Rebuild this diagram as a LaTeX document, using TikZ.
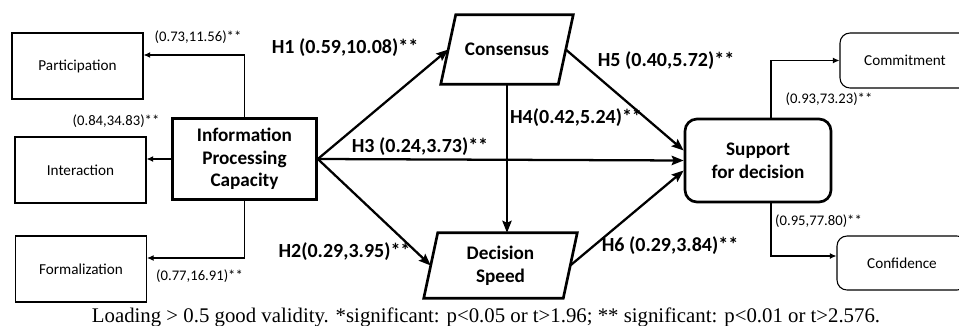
\documentclass[tikz,border=0pt]{standalone}
\usepackage{fontspec}
\setmainfont{Carlito}
\newfontfamily\capfont{Liberation Serif}
\usetikzlibrary{arrows.meta,calc}
\begin{document}
\begin{tikzpicture}[x=0.75pt,y=-0.75pt,
  thinbox/.style={draw, line width=0.8pt, inner sep=0pt, align=center, font=\fontsize{11.4}{13}\selectfont},
  boldbox/.style={draw, line width=2pt, inner sep=0pt, align=center, font=\bfseries\fontsize{14.4}{17}\selectfont},
  ghost/.style={inner sep=0pt, align=center, font=\bfseries\fontsize{14.4}{17}\selectfont},
  para/.style={line width=2pt, line join=miter},
  main/.style={line width=1.7pt, -{Stealth[length=9pt,width=7pt,inset=1.5pt]}},
  thin/.style={line width=0.8pt, -{Latex[length=5pt,width=4.5pt]}},
  hlab/.style={inner sep=0pt, font=\bfseries\fontsize{15}{17}\selectfont},
  slab/.style={inner sep=0pt, font=\fontsize{11}{13}\selectfont}]
\useasboundingbox (0,0) rectangle (959,325);
\clip (0,0) rectangle (959,325);

% indicator boxes
\node[thinbox, minimum width=98.25pt, minimum height=49.5pt] (part) at (77.5,66) {Participation};
\node[thinbox, minimum width=98.25pt, minimum height=49.5pt] (inter) at (80.5,170) {Interaction};
\node[thinbox, minimum width=98.25pt, minimum height=49.5pt] (formal) at (81,269) {Formalization};
\node[thinbox, rounded corners=7.5pt, minimum width=97.5pt, minimum height=41.25pt] (commit) at (905,60.5) {Commitment};
\node[thinbox, rounded corners=7.5pt, minimum width=97.5pt, minimum height=40.5pt] (conf) at (902,263) {Confidence};

% constructs
\node[boldbox, minimum width=108pt, minimum height=60.75pt] (ipc) at (244.5,159) {Information\\Processing\\Capacity};
\node[boldbox, rounded corners=9pt, minimum width=109.5pt, minimum height=62.25pt] (sup) at (758,160.5) {Support\\for decision};
\node[ghost, minimum width=87.75pt, minimum height=51.75pt] (cons) at (507,49.5) {Consensus};
\node[ghost, minimum width=104.25pt, minimum height=48.75pt] (ds) at (500.5,265.5) {Decision\\Speed};
\draw[para] ($(cons.south west)+(-7.5,0)$) -- ($(cons.north west)+(7.5,0)$) -- ($(cons.north east)+(7.5,0)$) -- ($(cons.south east)+(-7.5,0)$) -- cycle;
\draw[para] ($(ds.south west)+(-7,0)$) -- ($(ds.north west)+(7,0)$) -- ($(ds.north east)+(7,0)$) -- ($(ds.south east)+(-7,0)$) -- cycle;

% loadings
\draw[thin] (ipc.north) |- ($(part.east)+(0,-11)$);
\draw[thin] (ipc.west) -- (ipc.west -| inter.east);
\draw[thin] (ipc.south) |- ($(formal.east)+(0,-11)$);
\draw[thin] ($(sup.north)+(13,0)$) |- (commit.west);
\draw[thin] ($(sup.south)+(13,0)$) |- ($(conf.west)+(0,-7)$);

\node[slab] (l1) at (198,37) {(0.73,11.56)**};
\node[slab] (l2) at (116,121) {(0.84,34.83)**};
\node[slab] (l3) at (199.5,276) {(0.77,16.91)**};
\node[slab] (l4) at (829,99) {(0.93,73.23)**};
\node[slab] (l5) at (818.5,221) {(0.95,77.80)**};

% structural paths
\draw[main] (ipc.east) -- (cons.west);
\draw[main] (ipc.east) -- (ds.west);
\draw[main] (ipc.east) -- (sup.west);
\draw[main] (cons.south) -- (cons.south |- ds.north);
\draw[main] (cons.east) -- ($(sup.west)+(0,-10)$);
\draw[main] (ds.east) -- ($(sup.west)+(0,10)$);

\node[hlab] (h1) at (345,48) {H1 (0.59,10.08)**};
\node[hlab] (h2) at (344.5,252) {H2(0.29,3.95)**};
\node[hlab] (h3) at (420,147) {H3 (0.24,3.73)**};
\node[hlab] (h4) at (576,118) {H4(0.42,5.24)**};
\node[hlab] (h5) at (666,61) {H5 (0.40,5.72)**};
\node[hlab] (h6) at (670,246) {H6 (0.29,3.84)**};

\node[inner sep=0pt, anchor=base, font=\capfont\fontsize{15.6}{17}\selectfont] (cap) at (486,322) {Loading > 0.5 good validity. *significant: p<0.05 or t>1.96; ** significant: p<0.01 or t>2.576.};
\end{tikzpicture}
\end{document}
